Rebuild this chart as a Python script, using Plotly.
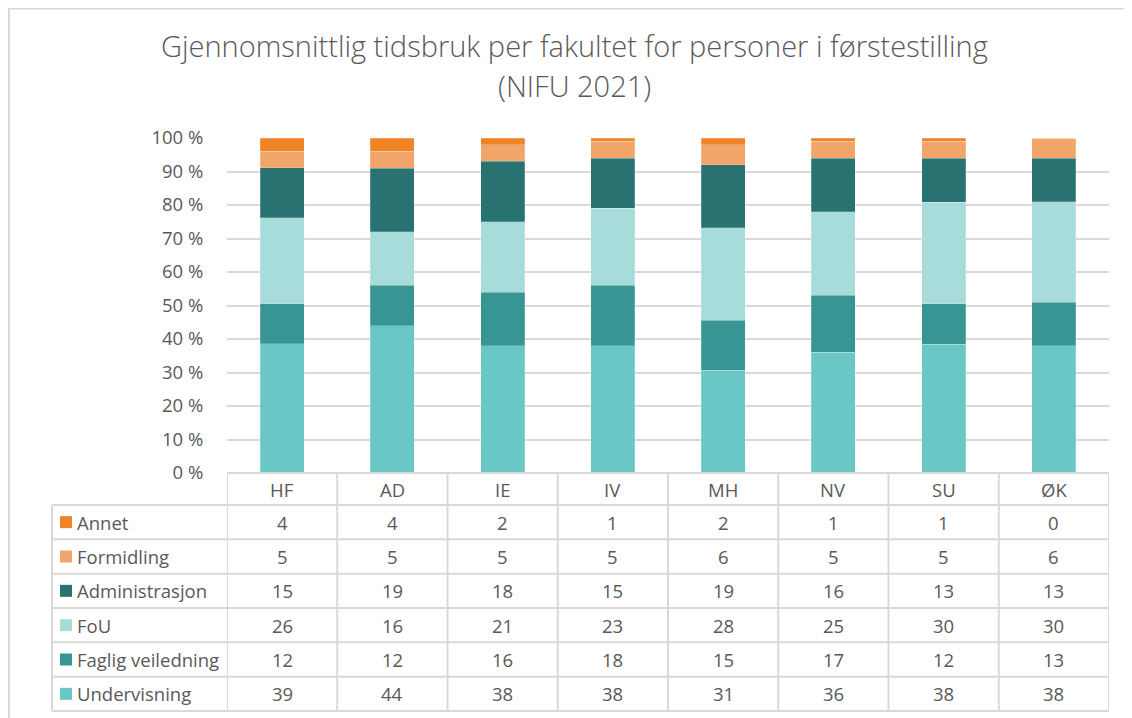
import plotly.graph_objects as go

W, H = 1132, 718

categories = ["HF", "AD", "IE", "IV", "MH", "NV", "SU", "ØK"]
series_names = ["Undervisning", "Faglig veiledning", "FoU", "Administrasjon", "Formidling", "Annet"]
undervisning = [39, 44, 38, 38, 31, 36, 38, 38]
faglig_veiledning = [12, 12, 16, 18, 15, 17, 12, 13]
fou = [26, 16, 21, 23, 28, 25, 30, 30]
administrasjon = [15, 19, 18, 15, 19, 16, 13, 13]
formidling = [5, 5, 5, 5, 6, 5, 5, 6]
annet = [4, 4, 2, 1, 2, 1, 1, 0]
y_tick_vals = [0, 10, 20, 30, 40, 50, 60, 70, 80, 90, 100]
y_tick_text = ["0 %", "10 %", "20 %", "30 %", "40 %", "50 %", "60 %", "70 %", "80 %", "90 %", "100 %"]
title_lines = ["Gjennomsnittlig tidsbruk per fakultet for personer i førstestilling", "(NIFU 2021)"]

series_values = [undervisning, faglig_veiledning, fou, administrasjon, formidling, annet]
colors = ["#69C7C5", "#379594", "#A7DCDB", "#287372", "#F2A56A", "#EF8326"]

FONT = "Open Sans"
TXT = "#595959"
GRID = "#D9D9D9"
FS = 18.5
OFF = 8  # page offset of the figure in the browser window


def px(x):
    return (x - OFF) / W


def py(y):
    return 1 - (y - OFF) / H


fig = go.Figure()
for name, vals, col in zip(series_names, series_values, colors):
    fig.add_trace(go.Bar(
        x=categories, y=vals, name=name,
        marker=dict(color=col, line=dict(color="rgba(255,255,255,0.35)", width=0.6)),
        width=0.4, showlegend=False,
    ))

plot_left, plot_right = 227, 1109
y_top, y_bot = 138, 473

fig.update_layout(
    width=W, height=H, autosize=False,
    margin=dict(l=0, r=0, t=0, b=0, pad=0),
    paper_bgcolor="white", plot_bgcolor="white",
    barmode="stack", barnorm="percent",
    font=dict(family=FONT, color=TXT),
    xaxis=dict(domain=[px(plot_left), px(plot_right)], range=[-0.5, 7.5],
               showticklabels=False, showgrid=False, zeroline=False, showline=False,
               ticks="", fixedrange=True, automargin=False),
    yaxis=dict(domain=[py(y_bot), py(y_top)], range=[0, 100],
               tickvals=y_tick_vals, ticktext=y_tick_text,
               tickfont=dict(family=FONT, size=FS, color=TXT),
               showgrid=True, gridcolor=GRID, gridwidth=1.5,
               zeroline=False, showline=False, automargin=False,
               ticks="outside", ticklen=19, tickcolor="rgba(0,0,0,0)"),
)

shapes = []
# chart frame
shapes.append(dict(type="rect", xref="paper", yref="paper",
                   x0=1 / W, x1=1.2, y0=-0.2, y1=py(8.5),
                   line=dict(color=GRID, width=2), fillcolor="rgba(0,0,0,0)", layer="below"))

# table geometry
table_left = 52
header_top = 473
header_bot = 505
row_h = (711 - header_bot) / 6
row_lines = [header_bot + i * row_h for i in range(7)]
line_style = dict(color=GRID, width=2)

shapes.append(dict(type="line", xref="x", yref="paper", x0=-0.5, x1=7.5,
                   y0=py(header_top), y1=py(header_top), line=line_style))
for yy in row_lines:
    shapes.append(dict(type="line", xref="paper", yref="paper", x0=px(table_left), x1=px(plot_right),
                       y0=py(yy), y1=py(yy), line=line_style))
for i in range(len(categories) + 1):
    xv = -0.5 + i
    shapes.append(dict(type="line", xref="x", yref="paper", x0=xv, x1=xv,
                       y0=py(row_lines[-1]), y1=py(header_top), line=line_style))
shapes.append(dict(type="line", xref="paper", yref="paper", x0=px(table_left), x1=px(table_left),
                   y0=py(row_lines[-1]), y1=py(header_bot), line=line_style))

annotations = []
for txt, yy in zip(title_lines, [46, 85]):
    annotations.append(dict(text=txt, xref="paper", yref="paper", x=px(574), y=py(yy),
                            xanchor="center", yanchor="middle", showarrow=False,
                            font=dict(family=FONT, size=29, color=TXT, weight=300)))
for c in categories:
    annotations.append(dict(text=c, xref="x", yref="paper", x=c, y=py((header_top + header_bot) / 2),
                            showarrow=False, xanchor="center", yanchor="middle",
                            font=dict(family=FONT, size=FS, color=TXT)))
order = list(range(len(series_names)))[::-1]
sq = 12
for r, si in enumerate(order):
    yc = (row_lines[r] + row_lines[r + 1]) / 2
    shapes.append(dict(type="rect", xref="paper", yref="paper",
                       x0=px(60), x1=px(60 + sq), y0=py(yc + sq / 2), y1=py(yc - sq / 2),
                       fillcolor=colors[si], line=dict(width=0)))
    annotations.append(dict(text=series_names[si], xref="paper", yref="paper", x=px(75), y=py(yc),
                            showarrow=False, xanchor="left", yanchor="middle",
                            font=dict(family=FONT, size=FS, color=TXT)))
    for c, v in zip(categories, series_values[si]):
        annotations.append(dict(text=str(v), xref="x", yref="paper", x=c, y=py(yc),
                                showarrow=False, xanchor="center", yanchor="middle",
                                font=dict(family=FONT, size=FS, color=TXT)))

fig.update_layout(shapes=shapes, annotations=annotations)
fig.write_html("out.html")
